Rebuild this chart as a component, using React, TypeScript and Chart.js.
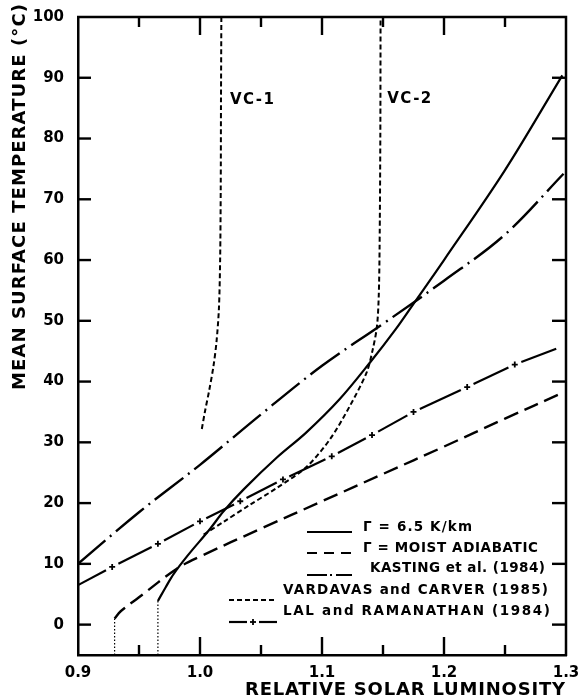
import React, { useEffect, useRef } from 'react';
import { Chart, registerables } from 'chart.js';

Chart.register(...registerables);

const INK = '#000000';
const FONT = '"DejaVu Sans", "Liberation Sans", sans-serif';

// Axis ranges and tick positions
const LUM_MIN = 0.9;
const LUM_MAX = 1.3;
const TEMP_MIN = -5;
const TEMP_MAX = 100;
const luminosityLabels = [0.9, 1.0, 1.1, 1.2, 1.3];
const luminosityMajorMarks = [1.0, 1.1, 1.2];
const luminosityMinorMarks = [0.95, 1.05, 1.15, 1.25];
const temperatureLabels = [0, 10, 20, 30, 40, 50, 60, 70, 80, 90, 100];
const temperatureMarks = [0, 10, 20, 30, 40, 50, 60, 70, 80, 90];

// Γ = 6.5 K/km
const lapseLum = [0.9655, 0.972, 0.9786, 0.99, 1.008, 1.0195, 1.036, 1.063, 1.087, 1.114, 1.14, 1.16, 1.175, 1.2, 1.25, 1.297];
const lapseTemp = [3.9, 6.2, 8.4, 11.4, 15.7, 18.7, 22.3, 27.5, 31.6, 37.0, 43.3, 48.5, 52.8, 60.0, 74.8, 90.4];

// Γ = moist adiabatic
const moistLum = [0.93, 0.935, 0.95, 0.981, 1.0, 1.05, 1.1, 1.15, 1.2, 1.25, 1.2977];
const moistTemp = [1.0, 2.2, 4.5, 9.2, 11.2, 15.8, 20.3, 24.8, 29.3, 33.9, 38.2];

// Kasting et al. (1984)
const kastingLum = [0.9, 0.95, 1.0, 1.05, 1.1, 1.15, 1.2, 1.25, 1.298];
const kastingTemp = [10.0, 18.5, 26.3, 34.6, 42.6, 49.5, 56.6, 64.2, 74.2];

// Vardavas and Carver (1985), VC-1
const vc1Lum = [1.0015, 1.004, 1.0075, 1.011, 1.0135, 1.0155, 1.0165, 1.017, 1.0172, 1.0175];
const vc1Temp = [32.2, 35.0, 38.5, 42.5, 46.5, 52.0, 60.0, 72.0, 86.0, 100.0];

// Vardavas and Carver (1985), VC-2
const vc2Lum = [1.003, 1.02, 1.04, 1.063, 1.087, 1.1065, 1.1226, 1.1366, 1.1415, 1.145, 1.1465, 1.1472, 1.1478, 1.148];
const vc2Temp = [14.8, 17.0, 19.6, 22.5, 25.9, 30.5, 35.9, 41.5, 45.2, 49.0, 54.0, 62.0, 80.0, 100.0];

// Lal and Ramanathan (1984); interior points carry the + markers
const lalLum = [0.9, 0.928, 0.9655, 1.0, 1.033, 1.068, 1.108, 1.141, 1.175, 1.219, 1.258, 1.292];
const lalTemp = [6.5, 9.5, 13.3, 17.0, 20.3, 23.9, 27.7, 31.2, 35.0, 39.1, 42.8, 45.4];

const legendLabels = [
  'Γ = 6.5 K/km',
  'Γ = MOIST ADIABATIC',
  'KASTING et al. (1984)',
  'VARDAVAS and CARVER (1985)',
  'LAL and RAMANATHAN (1984)',
];

const vcLabels = ['VC-1', 'VC-2'];
const vcLabelLum = [1.0245, 1.1535];
const vcLabelTemp = [86.3, 86.5];

const toPoints = (xs: number[], ys: number[]) => xs.map((x, i) => ({ x, y: ys[i] }));

const xTitle = 'RELATIVE SOLAR LUMINOSITY';
const yTitle = 'MEAN SURFACE TEMPERATURE (°C)';

function fittedText(ctx: CanvasRenderingContext2D, text: string, x: number, y: number, width: number, align: 'left' | 'right') {
  const c = ctx as any;
  c.letterSpacing = '0px';
  ctx.textAlign = 'left';
  const w = ctx.measureText(text).width;
  const n = Array.from(text).length;
  const sp = n > 1 ? (width - w) / (n - 1) : 0;
  c.letterSpacing = `${sp}px`;
  const startX = align === 'right' ? x - width : x;
  ctx.fillText(text, startX, y);
  c.letterSpacing = '0px';
}

function line(ctx: CanvasRenderingContext2D, x0: number, y0: number, x1: number, y1: number) {
  ctx.beginPath();
  ctx.moveTo(x0, y0);
  ctx.lineTo(x1, y1);
  ctx.stroke();
}

// frame, inward tick marks, curve labels, axis titles and the key
const paperPlugin = {
  id: 'paperDecor',
  afterDraw(chart: any) {
    const ctx: CanvasRenderingContext2D = chart.ctx;
    const { left: L, right: R, top: T, bottom: B } = chart.chartArea;
    const xs = chart.scales.x;
    const ys = chart.scales.y;
    ctx.save();
    ctx.setLineDash([]);
    ctx.strokeStyle = INK;
    ctx.fillStyle = INK;

    // top and right sides of the frame
    ctx.lineWidth = 2.5;
    ctx.beginPath();
    ctx.moveTo(L - 1, T);
    ctx.lineTo(R, T);
    ctx.lineTo(R, B + 1);
    ctx.stroke();

    // inward ticks
    ctx.lineWidth = 2.4;
    for (let i = 0; i < luminosityMajorMarks.length; i++) {
      const px = xs.getPixelForValue(luminosityMajorMarks[i]);
      line(ctx, px, B, px, B - 18);
      line(ctx, px, T, px, T + 18);
    }
    for (let i = 0; i < luminosityMinorMarks.length; i++) {
      const px = xs.getPixelForValue(luminosityMinorMarks[i]);
      line(ctx, px, B, px, B - 10);
      line(ctx, px, T, px, T + 10);
    }
    for (let i = 0; i < temperatureMarks.length; i++) {
      const py = ys.getPixelForValue(temperatureMarks[i]);
      line(ctx, L, py, L + 13, py);
      line(ctx, R, py, R - 14, py);
    }

    ctx.textBaseline = 'middle';
    ctx.font = `bold 15px ${FONT}`;
    vcLabels.forEach((t, i) => {
      fittedText(ctx, t, xs.getPixelForValue(vcLabelLum[i]), ys.getPixelForValue(vcLabelTemp[i]), 44, 'left');
    });

    ctx.font = `bold 18px ${FONT}`;
    fittedText(ctx, xTitle, R - 1, 690, 320, 'right');
    ctx.save();
    ctx.translate(20, 390);
    ctx.rotate(-Math.PI / 2);
    fittedText(ctx, yTitle, 0, 0, 386, 'left');
    ctx.restore();

    // key
    const rows = [
      { sx0: R - 259, sx1: R - 214, sy: B - 123, tx: R - 203, ty: B - 128, tw: 109, dash: [] as number[] },
      { sx0: R - 259, sx1: R - 214, sy: B - 102, tx: R - 203, ty: B - 107, tw: 175, dash: [10, 7] },
      { sx0: R - 259, sx1: R - 214, sy: B - 80, tx: R - 196, ty: B - 87, tw: 175, dash: [20, 3, 2, 4] },
      { sx0: R - 337, sx1: R - 289, sy: B - 55, tx: R - 283, ty: B - 65, tw: 265, dash: [5, 3] },
      { sx0: R - 337, sx1: R - 289, sy: B - 33, tx: R - 283, ty: B - 44, tw: 267, dash: [] as number[] },
    ];
    ctx.lineWidth = 2.2;
    rows.forEach((r, i) => {
      if (i === 4) {
        const mid = (r.sx0 + r.sx1) / 2;
        ctx.setLineDash([]);
        line(ctx, r.sx0, r.sy, mid - 6, r.sy);
        line(ctx, mid + 6, r.sy, r.sx1, r.sy);
        ctx.lineWidth = 1.8;
        line(ctx, mid - 3, r.sy, mid + 3, r.sy);
        line(ctx, mid, r.sy - 3, mid, r.sy + 3);
        ctx.lineWidth = 2.2;
      } else {
        ctx.setLineDash(r.dash);
        line(ctx, r.sx0, r.sy, r.sx1, r.sy);
      }
    });
    ctx.setLineDash([]);
    ctx.font = `bold 13.5px ${FONT}`;
    rows.forEach((r, i) => fittedText(ctx, legendLabels[i], r.tx, r.ty, r.tw, 'left'));

    ctx.restore();
  },
};

export default function App() {
  const canvasRef = useRef<HTMLCanvasElement | null>(null);

  useEffect(() => {
    const canvas = canvasRef.current;
    if (!canvas) return;
    const lalLast = lalLum.length - 1;
    const LAL_GAP = 7;

    const base = { fill: false, pointRadius: 0, borderColor: INK, backgroundColor: INK };

    const chart = new Chart(canvas, {
      type: 'line',
      data: {
        datasets: [
          {
            ...base,
            label: legendLabels[0],
            data: toPoints(lapseLum, lapseTemp),
            borderWidth: 2.2,
            tension: 0.35,
          },
          {
            ...base,
            label: legendLabels[1],
            data: toPoints(moistLum, moistTemp),
            borderWidth: 2.4,
            borderDash: [15, 7],
            tension: 0.35,
          },
          {
            ...base,
            label: legendLabels[2],
            data: toPoints(kastingLum, kastingTemp),
            borderWidth: 2.4,
            borderDash: [36, 6, 2, 6],
            tension: 0.35,
          },
          {
            ...base,
            label: 'VC-1',
            data: toPoints(vc1Lum, vc1Temp),
            borderWidth: 2,
            borderDash: [5, 3],
            tension: 0.3,
          },
          {
            ...base,
            label: 'VC-2',
            data: toPoints(vc2Lum, vc2Temp),
            borderWidth: 2,
            borderDash: [5, 3],
            tension: 0.3,
          },
          {
            ...base,
            label: legendLabels[4],
            data: toPoints(lalLum, lalTemp),
            borderWidth: 2.2,
            tension: 0,
            pointStyle: 'cross',
            pointBorderColor: INK,
            pointBorderWidth: 1.8,
            pointRadius: (c: any) => (c.dataIndex === 0 || c.dataIndex === lalLast ? 0 : 3),
            segment: {
              // one dash per span, broken around each + marker
              borderDash: (c: any) => {
                const len = Math.hypot(c.p1.x - c.p0.x, c.p1.y - c.p0.y);
                const g0 = c.p0DataIndex === 0 ? 0 : LAL_GAP;
                const g1 = c.p1DataIndex === lalLast ? 0 : LAL_GAP;
                return [0, g0, Math.max(len - g0 - g1, 0.01), g1 + 2000];
              },
            },
          },
          {
            ...base,
            label: 'onset 6.5',
            data: [{ x: lapseLum[0], y: TEMP_MIN }, { x: lapseLum[0], y: lapseTemp[0] }],
            borderWidth: 1.2,
            borderDash: [1.5, 2],
          },
          {
            ...base,
            label: 'onset moist',
            data: [{ x: moistLum[0], y: TEMP_MIN }, { x: moistLum[0], y: moistTemp[0] }],
            borderWidth: 1.2,
            borderDash: [1.5, 2],
          },
        ],
      },
      options: {
        animation: false,
        responsive: false,
        events: [],
        layout: { padding: { top: 17, right: 19, left: 0, bottom: 0 } },
        plugins: { legend: { display: false }, tooltip: { enabled: false } },
        scales: {
          x: {
            type: 'linear',
            position: 'bottom',
            min: LUM_MIN,
            max: LUM_MAX,
            afterBuildTicks: (s: any) => { s.ticks = luminosityLabels.map((value) => ({ value })); },
            afterFit: (s: any) => {
              s.height = 43;
              s.paddingLeft = 0;
              s.paddingRight = 0;
            },
            grid: { display: false, drawTicks: false },
            border: { display: true, color: INK, width: 2.5 },
            ticks: {
              padding: 9,
              color: INK,
              autoSkip: false,
              maxRotation: 0,
              font: { family: FONT, size: 15, weight: 'bold' },
              callback: (v: any) => Number(v).toFixed(1),
            },
          },
          y: {
            type: 'linear',
            min: TEMP_MIN,
            max: TEMP_MAX,
            afterBuildTicks: (s: any) => { s.ticks = temperatureLabels.map((value) => ({ value })); },
            afterFit: (s: any) => {
              s.width = 78;
              s.paddingTop = 0;
              s.paddingBottom = 0;
            },
            grid: { display: false, drawTicks: false },
            border: { display: true, color: INK, width: 2.5 },
            ticks: {
              padding: 14,
              color: INK,
              autoSkip: false,
              font: { family: FONT, size: 15, weight: 'bold' },
              callback: (v: any) => String(v),
            },
          },
        },
      },
      plugins: [paperPlugin],
    } as any);

    return () => chart.destroy();
  }, []);

  return (
    <div style={{ position: 'absolute', left: 0, top: 0, width: 585, height: 698, background: '#fff' }}>
      <canvas ref={canvasRef} width={585} height={698} style={{ display: 'block', width: 585, height: 698 }} />
    </div>
  );
}
